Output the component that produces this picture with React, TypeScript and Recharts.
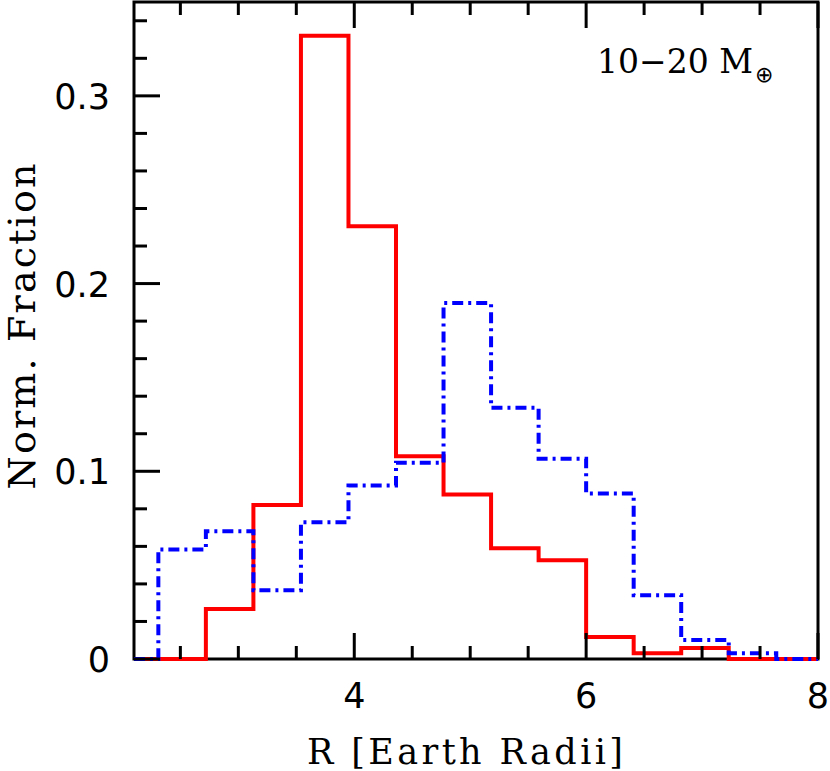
import React from 'react';
import { ComposedChart, Line, XAxis, YAxis, Label, ReferenceArea } from 'recharts';

// Histogram bin edges (R in Earth radii); first/last points pad the axis range
const binEdges = [2.1, 2.31, 2.72, 3.13, 3.54, 3.95, 4.36, 4.77, 5.18, 5.59, 6.0, 6.41, 6.82, 7.23, 7.64, 8.0];
// value at index i holds from binEdges[i] to binEdges[i+1]
const redFraction = [0, 0, 0.0266, 0.082, 0.332, 0.2305, 0.108, 0.0876, 0.059, 0.0526, 0.0117, 0.0031, 0.0058, 0, 0, 0];
const blueFraction = [0, 0.0584, 0.068, 0.0366, 0.0728, 0.0924, 0.1046, 0.1896, 0.1338, 0.1067, 0.0882, 0.034, 0.0101, 0.003, 0, 0];

const xDomain = [2.1, 8];
const yDomain = [0, 0.35];
const xTicks = [2.5, 3, 3.5, 4, 4.5, 5, 5.5, 6, 6.5, 7, 7.5, 8];
const xMajorTicks = [4, 6, 8];
const xTickLabels = ['4', '6', '8'];
const yTicks = [0, 0.02, 0.04, 0.06, 0.08, 0.1, 0.12, 0.14, 0.16, 0.18, 0.2, 0.22, 0.24, 0.26, 0.28, 0.3, 0.32, 0.34];
const yMajorTicks = [0, 0.1, 0.2, 0.3];
const yTickLabels = ['0', '0.1', '0.2', '0.3'];

const xTitle = 'R [Earth Radii]';
const yTitle = 'Norm. Fraction';
const annotation = '10\u221220 M';
const annotationSub = '\u2295';

const data = binEdges.map((r, i) => ({ r, red: redFraction[i], blue: blueFraction[i] }));

const TICK_FONT = '"DejaVu Sans", sans-serif';
const TITLE_FONT = '"DejaVu Serif", serif';
const MAJOR = 26;
const MINOR = 13;

function BottomTick(props: any) {
  const { x, y, payload } = props;
  const idx = xMajorTicks.indexOf(payload.value);
  const major = idx >= 0;
  return (
    <g>
      <line x1={x} y1={y} x2={x} y2={y - (major ? MAJOR : MINOR)} stroke="#000" strokeWidth={3} />
      {major && (
        <text x={x} y={y + 49} textAnchor="middle" fontFamily={TICK_FONT} fontSize={35} fill="#000">
          {xTickLabels[idx]}
        </text>
      )}
    </g>
  );
}

function TopTick(props: any) {
  const { x, y, payload } = props;
  const major = xMajorTicks.indexOf(payload.value) >= 0;
  return <line x1={x} y1={y} x2={x} y2={y + (major ? MAJOR : MINOR)} stroke="#000" strokeWidth={3} />;
}

function LeftTick(props: any) {
  const { x, y, payload } = props;
  const idx = yMajorTicks.indexOf(payload.value);
  const major = idx >= 0;
  return (
    <g>
      <line x1={x} y1={y} x2={x + (major ? MAJOR : MINOR)} y2={y} stroke="#000" strokeWidth={3} />
      {major && (
        <text x={x - 24} y={y + 13} textAnchor="end" fontFamily={TICK_FONT} fontSize={35} fill="#000">
          {yTickLabels[idx]}
        </text>
      )}
    </g>
  );
}

function RightTick(props: any) {
  const { x, y, payload } = props;
  const major = yMajorTicks.indexOf(payload.value) >= 0;
  return <line x1={x} y1={y} x2={x - (major ? MAJOR : MINOR)} y2={y} stroke="#000" strokeWidth={3} />;
}

export default function App() {
  return (
    <div style={{ position: 'absolute', left: 0, top: 0, width: 830, height: 771, background: '#fff' }}>
      <ComposedChart width={830} height={771} data={data} margin={{ top: 1, right: 11, bottom: 111, left: 133 }}>
        <XAxis
          xAxisId="b"
          dataKey="r"
          type="number"
          domain={xDomain}
          ticks={xTicks}
          interval={0}
          height={1}
          tickSize={0}
          tickMargin={0}
          tickLine={false}
          axisLine={false}
          tick={<BottomTick />}
        >
          <Label
            content={(p: any) => {
              const vb = p.viewBox || {};
              return (
                <text x={vb.x + vb.width / 2 - 11} y={764} textAnchor="middle" fontFamily={TITLE_FONT} fontSize={35} fill="#000" textLength={316} lengthAdjust="spacing">
                  {xTitle}
                </text>
              );
            }}
          />
        </XAxis>
        <XAxis
          xAxisId="t"
          orientation="top"
          dataKey="r"
          type="number"
          domain={xDomain}
          ticks={xTicks}
          interval={0}
          height={1}
          tickSize={0}
          tickMargin={0}
          tickLine={false}
          axisLine={false}
          tick={<TopTick />}
        >
          <Label
            content={(p: any) => {
              const vb = p.viewBox || {};
              const right = vb.x + vb.width - 65;
              return (
                <text x={right} y={73} textAnchor="end" fontFamily={TITLE_FONT} fontSize={33} fill="#000">
                  {annotation}
                </text>
              );
            }}
          />
          <Label
            content={(p: any) => {
              const vb = p.viewBox || {};
              const left = vb.x + vb.width - 63;
              return (
                <text x={left} y={82} textAnchor="start" fontFamily={TICK_FONT} fontSize={22} fill="#000">
                  {annotationSub}
                </text>
              );
            }}
          />
        </XAxis>
        <YAxis
          yAxisId="l"
          type="number"
          domain={yDomain}
          ticks={yTicks}
          interval={0}
          width={1}
          tickSize={0}
          tickMargin={0}
          tickLine={false}
          axisLine={false}
          tick={<LeftTick />}
        >
          <Label
            content={(p: any) => {
              const vb = p.viewBox || {};
              const cy = vb.y + vb.height / 2 - 4;
              return (
                <text x={35} y={cy} transform={`rotate(-90, 35, ${cy})`} textAnchor="middle" fontFamily={TITLE_FONT} fontSize={38} fill="#000" textLength={326} lengthAdjust="spacing">
                  {yTitle}
                </text>
              );
            }}
          />
        </YAxis>
        <YAxis
          yAxisId="r"
          orientation="right"
          type="number"
          domain={yDomain}
          ticks={yTicks}
          interval={0}
          width={1}
          tickSize={0}
          tickMargin={0}
          tickLine={false}
          axisLine={false}
          tick={<RightTick />}
        />
        <ReferenceArea
          xAxisId="b"
          yAxisId="l"
          x1={xDomain[0]}
          x2={xDomain[1]}
          y1={yDomain[0]}
          y2={yDomain[1]}
          fill="none"
          fillOpacity={0}
          stroke="#000"
          strokeWidth={3}
          ifOverflow="visible"
        />
        <Line
          xAxisId="b"
          yAxisId="l"
          type="stepAfter"
          dataKey="red"
          stroke="#ff0000"
          strokeWidth={4}
          dot={false}
          activeDot={false}
          isAnimationActive={false}
          strokeLinejoin="miter"
        />
        <Line
          xAxisId="b"
          yAxisId="l"
          type="stepAfter"
          dataKey="blue"
          stroke="#0000ff"
          strokeWidth={4}
          strokeDasharray="11 5 3 5"
          dot={false}
          activeDot={false}
          isAnimationActive={false}
          strokeLinejoin="miter"
        />
      </ComposedChart>
    </div>
  );
}
